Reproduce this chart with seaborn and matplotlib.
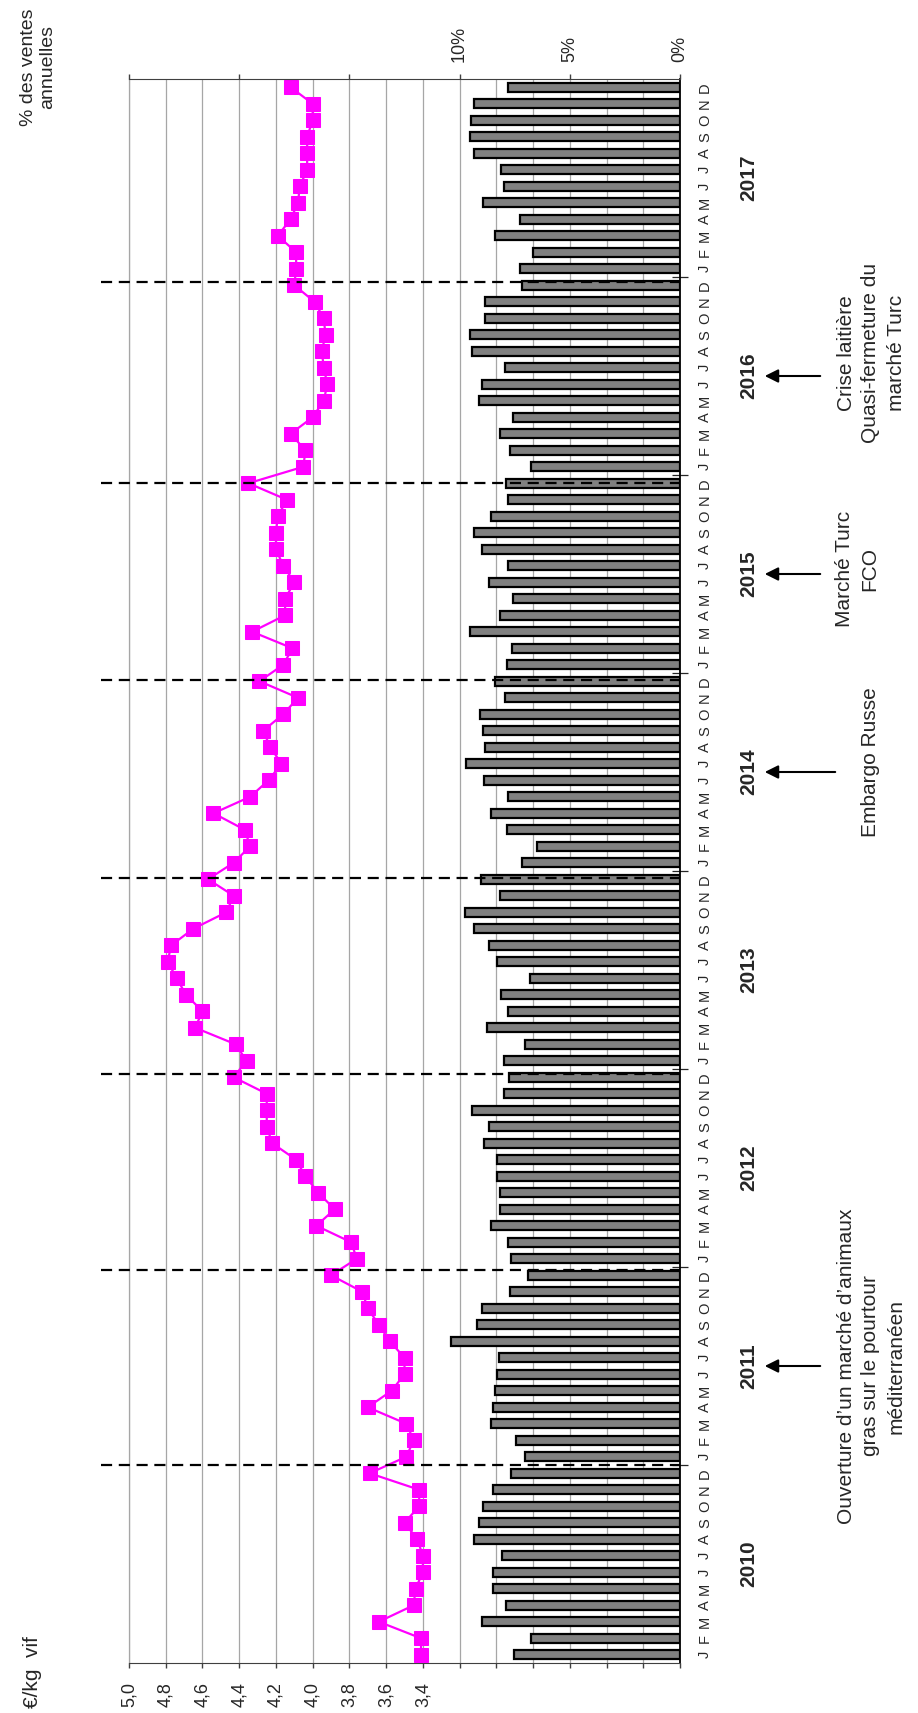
import numpy as np
import pandas as pd
import matplotlib
matplotlib.use("Agg")
import matplotlib.pyplot as plt
import matplotlib.transforms as mtransforms
import seaborn as sns

# Données
annees = [2010, 2011, 2012, 2013, 2014, 2015, 2016, 2017]
lettres_mois = ["J", "F", "M", "A", "M", "J", "J", "A", "S", "O", "N", "D"]

# prix €/kg vif, janvier -> décembre
prix_2010 = [3.41, 3.41, 3.64, 3.45, 3.44, 3.40, 3.40, 3.43, 3.50, 3.42, 3.42, 3.69]
prix_2011 = [3.49, 3.45, 3.49, 3.70, 3.57, 3.50, 3.50, 3.58, 3.64, 3.70, 3.73, 3.90]
prix_2012 = [3.76, 3.79, 3.98, 3.88, 3.97, 4.04, 4.09, 4.22, 4.25, 4.25, 4.25, 4.43]
prix_2013 = [4.36, 4.42, 4.64, 4.60, 4.69, 4.74, 4.79, 4.77, 4.65, 4.47, 4.43, 4.57]
prix_2014 = [4.43, 4.34, 4.37, 4.54, 4.34, 4.24, 4.17, 4.23, 4.27, 4.16, 4.08, 4.29]
prix_2015 = [4.16, 4.11, 4.33, 4.15, 4.15, 4.10, 4.16, 4.20, 4.20, 4.19, 4.14, 4.35]
prix_2016 = [4.05, 4.04, 4.12, 4.00, 3.94, 3.92, 3.94, 3.95, 3.93, 3.94, 3.99, 4.10]
prix_2017 = [4.09, 4.09, 4.19, 4.12, 4.08, 4.07, 4.03, 4.03, 4.03, 4.00, 4.00, 4.12]

# % des ventes annuelles
ventes_2010 = [7.54, 6.77, 9.00, 7.89, 8.50, 8.47, 8.07, 9.36, 9.13, 8.92, 8.50, 7.66]
ventes_2011 = [7.04, 7.43, 8.59, 8.47, 8.38, 8.32, 8.20, 10.38, 9.22, 8.99, 7.72, 6.89]
ventes_2012 = [7.66, 7.79, 8.59, 8.15, 8.15, 8.32, 8.32, 8.88, 8.65, 9.45, 7.97, 7.75]
ventes_2013 = [7.97, 7.04, 8.77, 7.79, 8.11, 6.80, 8.29, 8.65, 9.33, 9.76, 8.15, 9.04]
ventes_2014 = [7.16, 6.50, 7.84, 8.56, 7.79, 8.88, 9.69, 8.83, 8.95, 9.09, 7.93, 8.41]
ventes_2015 = [7.84, 7.61, 9.51, 8.16, 7.57, 8.65, 7.79, 9.00, 9.36, 8.56, 7.79, 7.88]
ventes_2016 = [6.77, 7.70, 8.16, 7.57, 9.13, 9.00, 7.93, 9.42, 9.51, 8.86, 8.86, 7.16]
ventes_2017 = [7.25, 6.68, 8.38, 7.25, 8.92, 7.98, 8.11, 9.36, 9.54, 9.49, 9.36, 7.80]

prix_ticks = [5.0, 4.8, 4.6, 4.4, 4.2, 4.0, 3.8, 3.6, 3.4, 3.2, 3.0, 2.8, 2.6, 2.4, 2.2, 2.0]
prix_labels = ["5,0", "4,8", "4,6", "4,4", "4,2", "4,0", "3,8", "3,6", "3,4"] + [""] * 7
pct_ticks = [25, 20, 15, 10, 5, 0]
pct_labels = ["", "", "", "10%", "5%", "0%"]

# traits pointillés entre les années (tracés à la main sur l'original)
separateurs = [11.5, 23.3, 35.2, 47.1, 59.1, 71.0, 83.2]

evenements = [
    (2011, "Ouverture d\u2019un marché d\u2019animaux\ngras sur le pourtour\nméditerranéen"),
    (2014, "Embargo Russe"),
    (2015, "Marché Turc\nFCO"),
    (2016, "Crise laitière\nQuasi-fermeture du\nmarché Turc"),
]

prix = prix_2010 + prix_2011 + prix_2012 + prix_2013 + prix_2014 + prix_2015 + prix_2016 + prix_2017
ventes = (ventes_2010 + ventes_2011 + ventes_2012 + ventes_2013 + ventes_2014
          + ventes_2015 + ventes_2016 + ventes_2017)
df = pd.DataFrame({"mois": np.arange(len(prix)), "prix": prix, "ventes": ventes})

sns.set_style("white")
plt.rcParams["font.family"] = ["Liberation Sans", "DejaVu Sans"]

W, H = 918, 1713
fig = plt.figure(figsize=(W / 100, H / 100), dpi=100)
ax = fig.add_axes([129 / W, 1 - 1663 / H, 551 / W, 1584 / H])
ax2 = ax.twiny()

# barres : % des ventes (axe du haut)
sns.barplot(data=df, x="ventes", y="mois", orient="h", native_scale=True, ax=ax2,
            color="#808080", saturation=1, edgecolor="black", linewidth=1.6, width=0.55)

# courbe de prix (axe du bas)
sns.lineplot(data=df, x="prix", y="mois", orient="y", sort=False, estimator=None, ax=ax,
             color="#FF00FF", linewidth=1.6, marker="s", markersize=9.5,
             markeredgecolor="#FF00FF", zorder=3)

ax.set_xlim(5.0, 2.0)
ax2.set_xlim(25, 0)
ax.set_ylim(-0.5, len(prix) - 0.5)
for a in (ax, ax2):
    a.set_xlabel("")
    a.set_ylabel("")

ax.set_xticks(prix_ticks, labels=prix_labels)
ax2.set_xticks(pct_ticks, labels=pct_labels)
ax.grid(axis="x", color="#a6a6a6", linewidth=0.9)
ax.grid(axis="y", visible=False)
ax.set_axisbelow(True)

ax.tick_params(axis="x", bottom=True, top=False, direction="out", length=3.6, width=1,
               color="#404040", labelsize=13, labelrotation=90, pad=10)
ax2.tick_params(axis="x", top=True, bottom=False, direction="out", length=3.6, width=1,
                color="#404040", labelsize=13, labelrotation=90, pad=8.5)
ax2.tick_params(axis="y", which="both", left=False, right=False, labelleft=False, labelright=False)

# mois à droite
ax.yaxis.set_ticks_position("right")
ax.set_yticks(df["mois"], labels=lettres_mois * len(annees))
ax.set_yticks([12 * i - 0.5 for i in range(1, len(annees))], minor=True)
ax.tick_params(axis="y", which="major", length=0, pad=13, labelsize=10.5, labelrotation=90)
ax.tick_params(axis="y", which="minor", right=True, direction="inout", length=11, width=0.9)
for lab in ax.get_yticklabels():
    lab.set_va("center")

for name, sp in ax.spines.items():
    sp.set_visible(name in ("bottom", "right", "left"))
ax.spines["bottom"].set_color("#404040")
ax.spines["left"].set_color("#a6a6a6")
ax.spines["left"].set_linewidth(0.9)
ax.spines["right"].set_color("black")
ax.spines["right"].set_linewidth(1.3)
for name, sp in ax2.spines.items():
    sp.set_visible(name == "top")
ax2.spines["top"].set_color("#404040")

# pointillés de séparation des années
trans_sep = mtransforms.blended_transform_factory(ax2.transAxes, ax2.transData)
for y in separateurs:
    ax2.plot([-0.05, 1.0], [y, y], transform=trans_sep, color="black", linewidth=1.6,
             linestyle=(0, (5, 3)), clip_on=False, zorder=5)

# années et événements
trans_fig = mtransforms.blended_transform_factory(fig.transFigure, ax.transData)
for i, an in enumerate(annees):
    ax.text(749 / W, 12 * i + 5.5, str(an), transform=trans_fig, rotation=90,
            ha="center", va="center", fontsize=15, fontweight="bold")

pos_texte = {2011: (871, 0.0), 2014: (870, 0.6), 2015: (857, 0.3), 2016: (871, 1.4)}
for an, texte in evenements:
    ym = 12 * (an - annees[0]) + 5.5
    longueur = 838 if an == 2014 else 823
    ax.annotate("", xy=(762 / W, ym), xytext=(longueur / W, ym),
                xycoords=("figure fraction", "data"), textcoords=("figure fraction", "data"),
                arrowprops=dict(arrowstyle="-|>", color="black", lw=1.5, mutation_scale=20))
    xt, dy = pos_texte[an]
    ax.text(xt / W, ym + dy, texte, transform=trans_fig, rotation=90,
            ha="center", va="center", multialignment="center", fontsize=15, linespacing=1.4)

fig.text(33 / W, 1 - 1672 / H, "\u20ac/kg  vif", rotation=90, ha="center", va="center", fontsize=15)
fig.text(38 / W, 1 - 67 / H, "% des ventes\nannuelles", rotation=90, ha="center", va="center",
         multialignment="center", fontsize=14)

fig.savefig("out.png", dpi=100)
